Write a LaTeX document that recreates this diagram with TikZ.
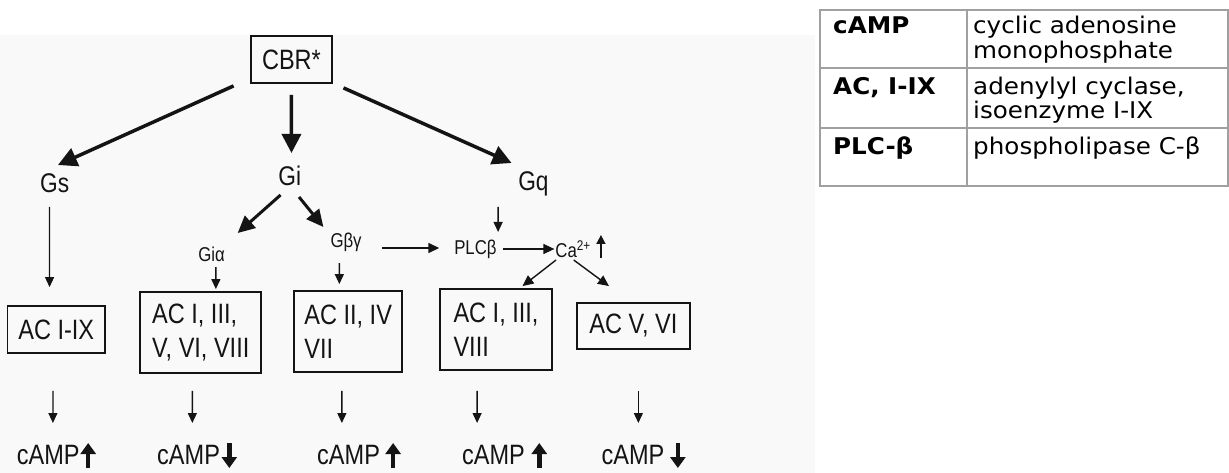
\documentclass[tikz,border=0pt]{standalone}
\usepackage{fontspec}
\setmainfont{Liberation Sans}
\newfontfamily\tabfont[FakeStretch=1.07]{DejaVu Sans}
\usetikzlibrary{arrows.meta}
\definecolor{bgg}{RGB}{249,249,249}
\definecolor{tabline}{RGB}{160,160,160}
\definecolor{ink}{RGB}{20,20,20}
\tikzset{
  box/.style={draw=ink, line width=1.8pt, inner sep=0pt, align=left, text=ink,
    font=\fontsize{28}{34}\selectfont},
  lbl/.style={inner sep=0pt, text=ink, font=\fontsize{27}{30}\selectfont},
  sm/.style={inner sep=0pt, text=ink, font=\fontsize{20}{24}\selectfont},
  camp/.style={inner sep=0pt, text=ink, font=\fontsize{28}{30}\selectfont},
  big/.style={draw=ink, line width=3.5pt, -{Triangle[length=19pt,width=19pt]}},
  mid/.style={draw=ink, line width=3pt, -{Triangle[length=17pt,width=16pt]}},
  thin/.style={draw=ink, line width=1.3pt, -{Triangle[length=10pt,width=9pt]}},
  med/.style={draw=ink, line width=1.4pt, -{Triangle[length=11pt,width=10pt]}},
  updown/.style={draw=ink, line width=4.5pt, -{Triangle[length=11pt,width=15pt]}},
  caup/.style={draw=ink, line width=1.6pt, -{Triangle[length=9pt,width=9pt]}},
  tb/.style={anchor=base west, inner sep=0pt, text=black, font=\tabfont\bfseries\fontsize{23}{26}\selectfont},
  tn/.style={anchor=base west, inner sep=0pt, text=black, font=\tabfont\fontsize{23}{26}\selectfont},
  tline/.style={draw=tabline, line width=2pt}
}
\begin{document}
\begin{tikzpicture}[x=1pt,y=-1pt]
\useasboundingbox (0,0) rectangle (1229,473);
\fill[white] (0,0) rectangle (1229,473);
\fill[bgg] (0,35) rectangle (815,473);

\begin{scope}[xscale=0.84, transform shape]
% nodes
\node[box, minimum width=96pt, minimum height=47pt] (cbr) at (347,59.5) {CBR*};
\node[lbl] (gs) at (65,183) {Gs};
\node[lbl] (gi) at (345,176) {Gi};
\node[lbl] (gq) at (635,184) {Gq};
\node[sm] (gia) at (252,254) {Giα};
\node[sm] (gby) at (412,242) {Gβγ};
\node[sm] (plc) at (566,249) {PLCβ};
\node[sm, anchor=west] (ca) at (661,249) {Ca\textsuperscript{2+}};

\node[box, minimum width=116pt, minimum height=47pt] (ac1) at (67,329.5) {AC I-IX};
\node[box, minimum width=144pt, minimum height=81pt] (ac2) at (239,332.5) {AC I, III,\\V, VI, VIII};
\node[box, minimum width=129pt, minimum height=81pt] (ac3) at (414.5,331.5) {AC II, IV\\VII};
\node[box, minimum width=133pt, minimum height=81pt] (ac4) at (590.5,329.5) {AC I, III,\\VIII};
\node[box, minimum width=134pt, minimum height=46pt] (ac5) at (754,326) {AC V, VI};

\node[camp] (camp1) at (57.5,455) {cAMP};
\node[camp] (camp2) at (224.5,455) {cAMP};
\node[camp] (camp3) at (415,455) {cAMP};
\node[camp] (camp4) at (587.5,455) {cAMP};
\node[camp] (camp5) at (753.5,455) {cAMP};

% connectors
\draw[big] ([shift={(-20,2)}]cbr.south west) -- ([shift={(4,-18)}]gs.center);
\draw[big] ([shift={(0,11)}]cbr.south) -- ([shift={(2,-23)}]gi.center);
\draw[big] ([shift={(13,4)}]cbr.south east) -- ([shift={(-26,-21)}]gq.center);
\draw[mid] ([shift={(-11,19)}]gi.center) -- ([shift={(31,-21)}]gia.center);
\draw[mid] ([shift={(11,21)}]gi.center) -- ([shift={(-27,-15)}]gby.center);

\draw[thin] ([shift={(-6,24)}]gs.center) -- ([shift={(-8,-18)}]ac1.north);
\draw[thin] ([shift={(5,13)}]gia.center) -- ([shift={(18,-2)}]ac2.north);
\draw[thin] ([shift={(-8,21)}]gby.center) -- ([shift={(-10.5,-6)}]ac3.north);
\draw[med] ([shift={(43,6)}]gby.center) -- ([shift={(-43,-1)}]plc.center);
\draw[thin] ([shift={(-42,23)}]gq.center) -- ([shift={(27,-17)}]plc.center);
\draw[med] ([shift={(7,0)}]plc.east) -- ([shift={(-1,0)}]ca.west);
\draw[caup] ([shift={(12,9)}]ca.east) -- ([shift={(12,-14)}]ca.east);
\draw[med] ([shift={(1,11)}]ca.west) -- ([shift={(31.5,-2)}]ac4.north);
\draw[med] ([shift={(22,11)}]ca.west) -- ([shift={(-29,-16)}]ac5.north);

\draw[thin] ([shift={(-4,37)}]ac1.south) -- ([shift={(5.5,-32)}]camp1.center);
\draw[thin] ([shift={(-10,17)}]ac2.south) -- ([shift={(4.5,-32)}]camp2.center);
\draw[thin] ([shift={(-7.5,18)}]ac3.south) -- ([shift={(-8,-32)}]camp3.center);
\draw[thin] ([shift={(-22.5,20)}]ac4.south) -- ([shift={(-19.5,-32)}]camp4.center);
\draw[thin] ([shift={(6,41)}]ac5.south) -- ([shift={(6.5,-32)}]camp5.center);

% cAMP up/down arrows
\draw[updown] ([shift={(47.5,13)}]camp1.center) -- ([shift={(47.5,-12)}]camp1.center);
\draw[updown] ([shift={(48.5,-12)}]camp2.center) -- ([shift={(48.5,13)}]camp2.center);
\draw[updown] ([shift={(53,13)}]camp3.center) -- ([shift={(53,-12)}]camp3.center);
\draw[updown] ([shift={(54.5,13)}]camp4.center) -- ([shift={(54.5,-12)}]camp4.center);
\draw[updown] ([shift={(53.5,-12)}]camp5.center) -- ([shift={(53.5,13)}]camp5.center);
\end{scope}

% table
\draw[tline] (820,10) rectangle (1228,186);
\draw[tline] (967,10) -- (967,186);
\draw[tline] (820,68) -- (1228,68);
\draw[tline] (820,128) -- (1228,128);
\node[tb] (t1a) at (833,34) {cAMP};
\node[tn] (t1b) at (973,34) {cyclic adenosine};
\node[tn] (t1c) at (973,59) {monophosphate};
\node[tb] (t2a) at (833,95) {AC, I-IX};
\node[tn] (t2b) at (973,95) {adenylyl cyclase,};
\node[tn] (t2c) at (973,119) {isoenzyme I-IX};
\node[tb] (t3a) at (833,155) {PLC-β};
\node[tn] (t3b) at (973,155) {phospholipase C-β};
\end{tikzpicture}
\end{document}
